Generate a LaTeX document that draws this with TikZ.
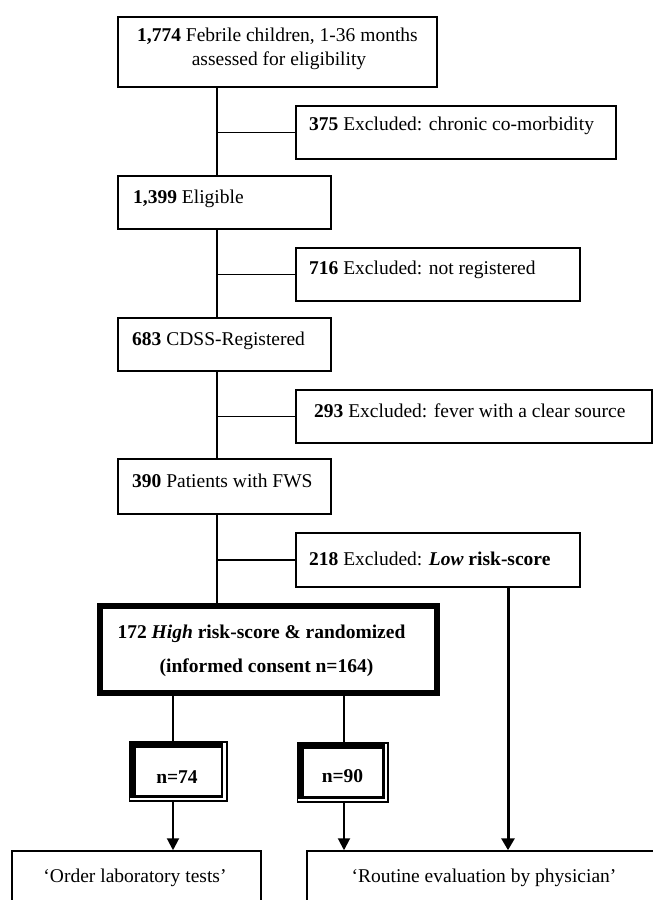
\documentclass[tikz,border=0pt]{standalone}
\usepackage{fontspec}
\setmainfont{Liberation Serif}
\usetikzlibrary{arrows.meta}
\begin{document}
\begin{tikzpicture}[x=1pt,y=-1pt,
  box/.style={draw, line width=1.5pt, rectangle, inner sep=0pt},
  txt/.style={inner sep=0pt, font=\fontsize{19.5}{24}\selectfont},
  thickbox/.style={draw, line width=6pt, rectangle, inner sep=0pt},
  dblbox/.style={draw, line width=7pt, rectangle, inner sep=0pt},
  link/.style={line width=1.5pt},
  vlink/.style={line width=2pt},
  arr/.style={line width=2pt, -{Triangle[width=12pt,length=12pt]}},
  bigarr/.style={line width=3pt, -{Triangle[width=13pt,length=12pt]}},
]
\fill[white] (0,0) rectangle (653,900);
\useasboundingbox (0,0) rectangle (653,900);
\clip (0,0) rectangle (653,900);

% boxes
\node[box, minimum width=319pt, minimum height=70pt] (b1) at (277.5,52) {};
\node[box, minimum width=320pt, minimum height=53pt] (e375) at (456,132.5) {};
\node[box, minimum width=213pt, minimum height=53pt] (elig) at (224.5,202.5) {};
\node[box, minimum width=284pt, minimum height=53pt] (e716) at (438,274.5) {};
\node[box, minimum width=213pt, minimum height=53pt] (reg) at (224.5,344.5) {};
\node[box, minimum width=356pt, minimum height=53pt] (e293) at (474,416.5) {};
\node[box, minimum width=213pt, minimum height=55pt] (fws) at (224.5,486.5) {};
\node[box, minimum width=284pt, minimum height=54pt] (e218) at (438,560) {};
\node[thickbox, minimum width=337pt, minimum height=87pt] (rand) at (268.5,649.5) {};
\node[dblbox, minimum width=92pt, minimum height=54pt] (n74) at (178.5,771.5) {};
\node[dblbox, minimum width=85pt, minimum height=54pt] (n90) at (343,772.5) {};
\node[box, minimum width=249pt, minimum height=59pt] (lab) at (136.5,880.5) {};
\node[box, minimum width=363pt, minimum height=59pt] (rout) at (488.5,880.5) {};

% double-border gaps
\draw[white, line width=2.2pt] (224.5,743) -- (224.5,798.8) -- (130,798.8);
\draw[white, line width=2.2pt] (385.8,744) -- (385.8,799.8) -- (298,799.8);

% texts
\node[txt, anchor=base] (t1a) at (277.5,41) {\textbf{1,774} Febrile children, 1-36 months};
\node[txt, anchor=base] (t1b) at (279,65) {assessed for eligibility};
\node[txt, anchor=base west] (t375) at (309,130) {\textbf{375} Excluded: chronic co-morbidity};
\node[txt, anchor=base west] (telig) at (133,203) {\textbf{1,399} Eligible};
\node[txt, anchor=base west] (t716) at (309,274) {\textbf{716} Excluded: not registered};
\node[txt, anchor=base west] (treg) at (132,345) {\textbf{683} CDSS-Registered};
\node[txt, anchor=base west] (t293) at (314,417) {\textbf{293} Excluded: fever with a clear source};
\node[txt, anchor=base west] (tfws) at (132,487) {\textbf{390} Patients with FWS};
\node[txt, anchor=base west] (t218) at (309,565) {\textbf{218} Excluded: \textbf{\textit{Low} risk-score}};
\node[txt, anchor=base] (trand1) at (261.5,638) {\textbf{172 \textit{High} risk-score \& randomized}};
\node[txt, anchor=base] (trand2) at (266.5,672) {\textbf{(informed consent n=164)}};
\node[txt, anchor=base] (t74) at (177,783) {\textbf{n=74}};
\node[txt, anchor=base] (t90) at (342.5,782) {\textbf{n=90}};
\node[txt, anchor=base] (tlab) at (135,882) {‘Order laboratory tests’};
\node[txt, anchor=base] (trout) at (484,882) {‘Routine evaluation by physician’};

% connectors
\coordinate (sp) at (217,0);
\coordinate (c74) at (173,0);
\coordinate (c90) at (344,0);
\coordinate (c218) at (508,0);
\draw[link] (b1.south -| sp) -- (elig.north -| sp);
\draw[link] (elig.south -| sp) -- (reg.north -| sp);
\draw[link] (reg.south -| sp) -- (fws.north -| sp);
\draw[link] (fws.south -| sp) -- (rand.north -| sp);
\draw[link] (sp |- e375.west) -- (e375.west);
\draw[link] (sp |- e716.west) -- (e716.west);
\draw[link] (sp |- e293.west) -- (e293.west);
\draw[link] (sp |- e218.west) -- (e218.west);
\draw[vlink] (rand.south -| c74) -- (n74.north -| c74);
\draw[vlink] (rand.south -| c90) -- (n90.north -| c90);
\draw[arr] (n74.south -| c74) -- (lab.north -| c74);
\draw[arr] (n90.south -| c90) -- (rout.north -| c90);
\draw[bigarr] (e218.south -| c218) -- (rout.north -| c218);
\end{tikzpicture}
\end{document}
